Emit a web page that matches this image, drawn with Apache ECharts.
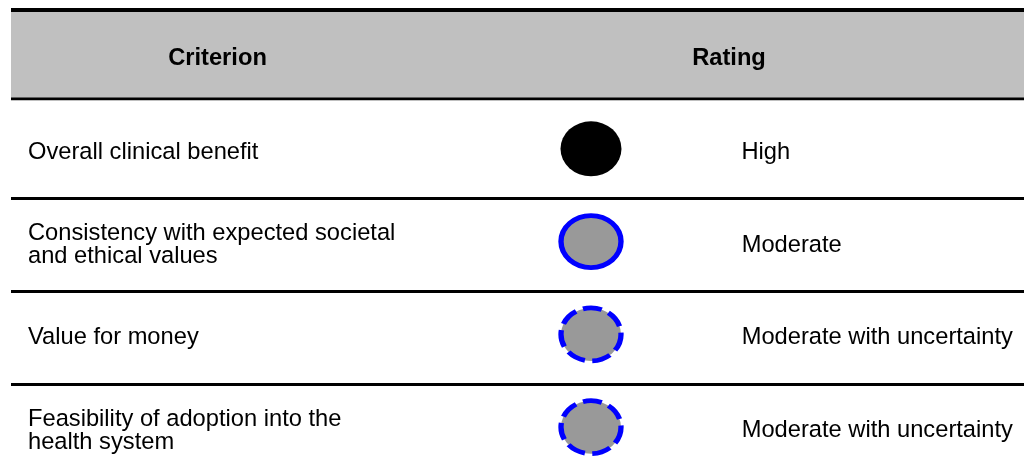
<!DOCTYPE html>
<html>
<head>
<meta charset="utf-8">
<script src="https://cdn.jsdelivr.net/npm/echarts@6/dist/echarts.min.js"></script>
<style>
  html, body { margin: 0; padding: 0; background: #fff; }
  #chart { width: 1024px; height: 468px; }
</style>
</head>
<body>
<div id="chart"></div>
<script>
// ---- data ----
const headers = ['Criterion', 'Rating'];
const criteria = [
  'Overall clinical benefit',
  'Consistency with expected societal\nand ethical values',
  'Value for money',
  'Feasibility of adoption into the\nhealth system'
];
const ratings = ['High', 'Moderate', 'Moderate with uncertainty', 'Moderate with uncertainty'];
const levels = ['high', 'moderate', 'uncertain', 'uncertain'];

// ---- styles ----
const FONT = '"Liberation Sans", Arial, Helvetica, sans-serif';
const FS = 23.7;
const BLUE = '#0000ff';
const GREY = '#999999';
const levelStyle = {
  high:      { size: [61, 55], dist: 120, item: { color: '#000000', borderWidth: 0, opacity: 1 } },
  moderate:  { size: [60, 52], dist: 118, item: { color: GREY, borderColor: BLUE, borderWidth: 5, borderType: 'solid', opacity: 1 } },
  uncertain: { size: [60, 53], dist: 118, item: { color: GREY, borderColor: BLUE, borderWidth: 5, borderType: [18, 7], opacity: 1 } }
};

const GRID_H = 371.2;

const chart = echarts.init(document.getElementById('chart'), null, { renderer: 'canvas' });

const option = {
  backgroundColor: '#ffffff',
  animation: false,
  textStyle: { fontFamily: FONT },
  grid: [
    { left: 11, right: 0, top: 105.9, height: GRID_H, outerBoundsMode: 'none', containLabel: false },
    { left: 540, width: 102, top: 102.4, height: GRID_H, outerBoundsMode: 'none', containLabel: false }
  ],
  xAxis: [
    { gridIndex: 0, type: 'value', min: 0, max: 1, show: false },
    { gridIndex: 1, type: 'category', data: [headers[1]], show: false }
  ],
  yAxis: [
    {
      gridIndex: 0, type: 'category', data: criteria, inverse: true,
      axisLine: { show: false }, axisTick: { show: false },
      axisLabel: {
        inside: true, margin: 17, align: 'left', color: '#000',
        fontFamily: FONT, fontSize: FS, lineHeight: 23.3
      },
      splitLine: {
        show: true,
        interval: function (idx) { return idx > 0; },
        lineStyle: { color: '#000', width: 3 }
      }
    },
    {
      gridIndex: 1, type: 'category', data: criteria, inverse: true, show: false
    }
  ],
  graphic: [
    { type: 'rect', shape: { x: 11, y: 12, width: 1013, height: 86 }, style: { fill: '#c0c0c0' }, silent: true },
    { type: 'rect', shape: { x: 11, y: 8, width: 1013, height: 4 }, style: { fill: '#000' }, silent: true },
    { type: 'rect', shape: { x: 11, y: 97.5, width: 1013, height: 2.7 }, style: { fill: '#000' }, silent: true },
    { type: 'text', x: 217.5, y: 58.5, style: { text: headers[0], font: 'bold ' + FS + 'px ' + FONT, fill: '#000', align: 'center', verticalAlign: 'middle' }, silent: true },
    { type: 'text', x: 729, y: 58.5, style: { text: headers[1], font: 'bold ' + FS + 'px ' + FONT, fill: '#000', align: 'center', verticalAlign: 'middle' }, silent: true }
  ],
  series: [
    {
      type: 'scatter',
      xAxisIndex: 1, yAxisIndex: 1,
      symbol: 'circle',
      itemStyle: { opacity: 1 },
      data: criteria.map(function (c, i) {
        const st = levelStyle[levels[i]];
        return {
          value: [headers[1], c],
          symbolSize: st.size,
          itemStyle: st.item,
          label: { formatter: ratings[i], distance: st.dist }
        };
      }),
      label: {
        show: true, position: 'right', distance: 120, offset: [0, 3.5],
        color: '#000', opacity: 1, fontFamily: FONT, fontSize: FS
      },
      emphasis: { disabled: true }
    }
  ]
};

chart.setOption(option);
</script>
</body>
</html>
